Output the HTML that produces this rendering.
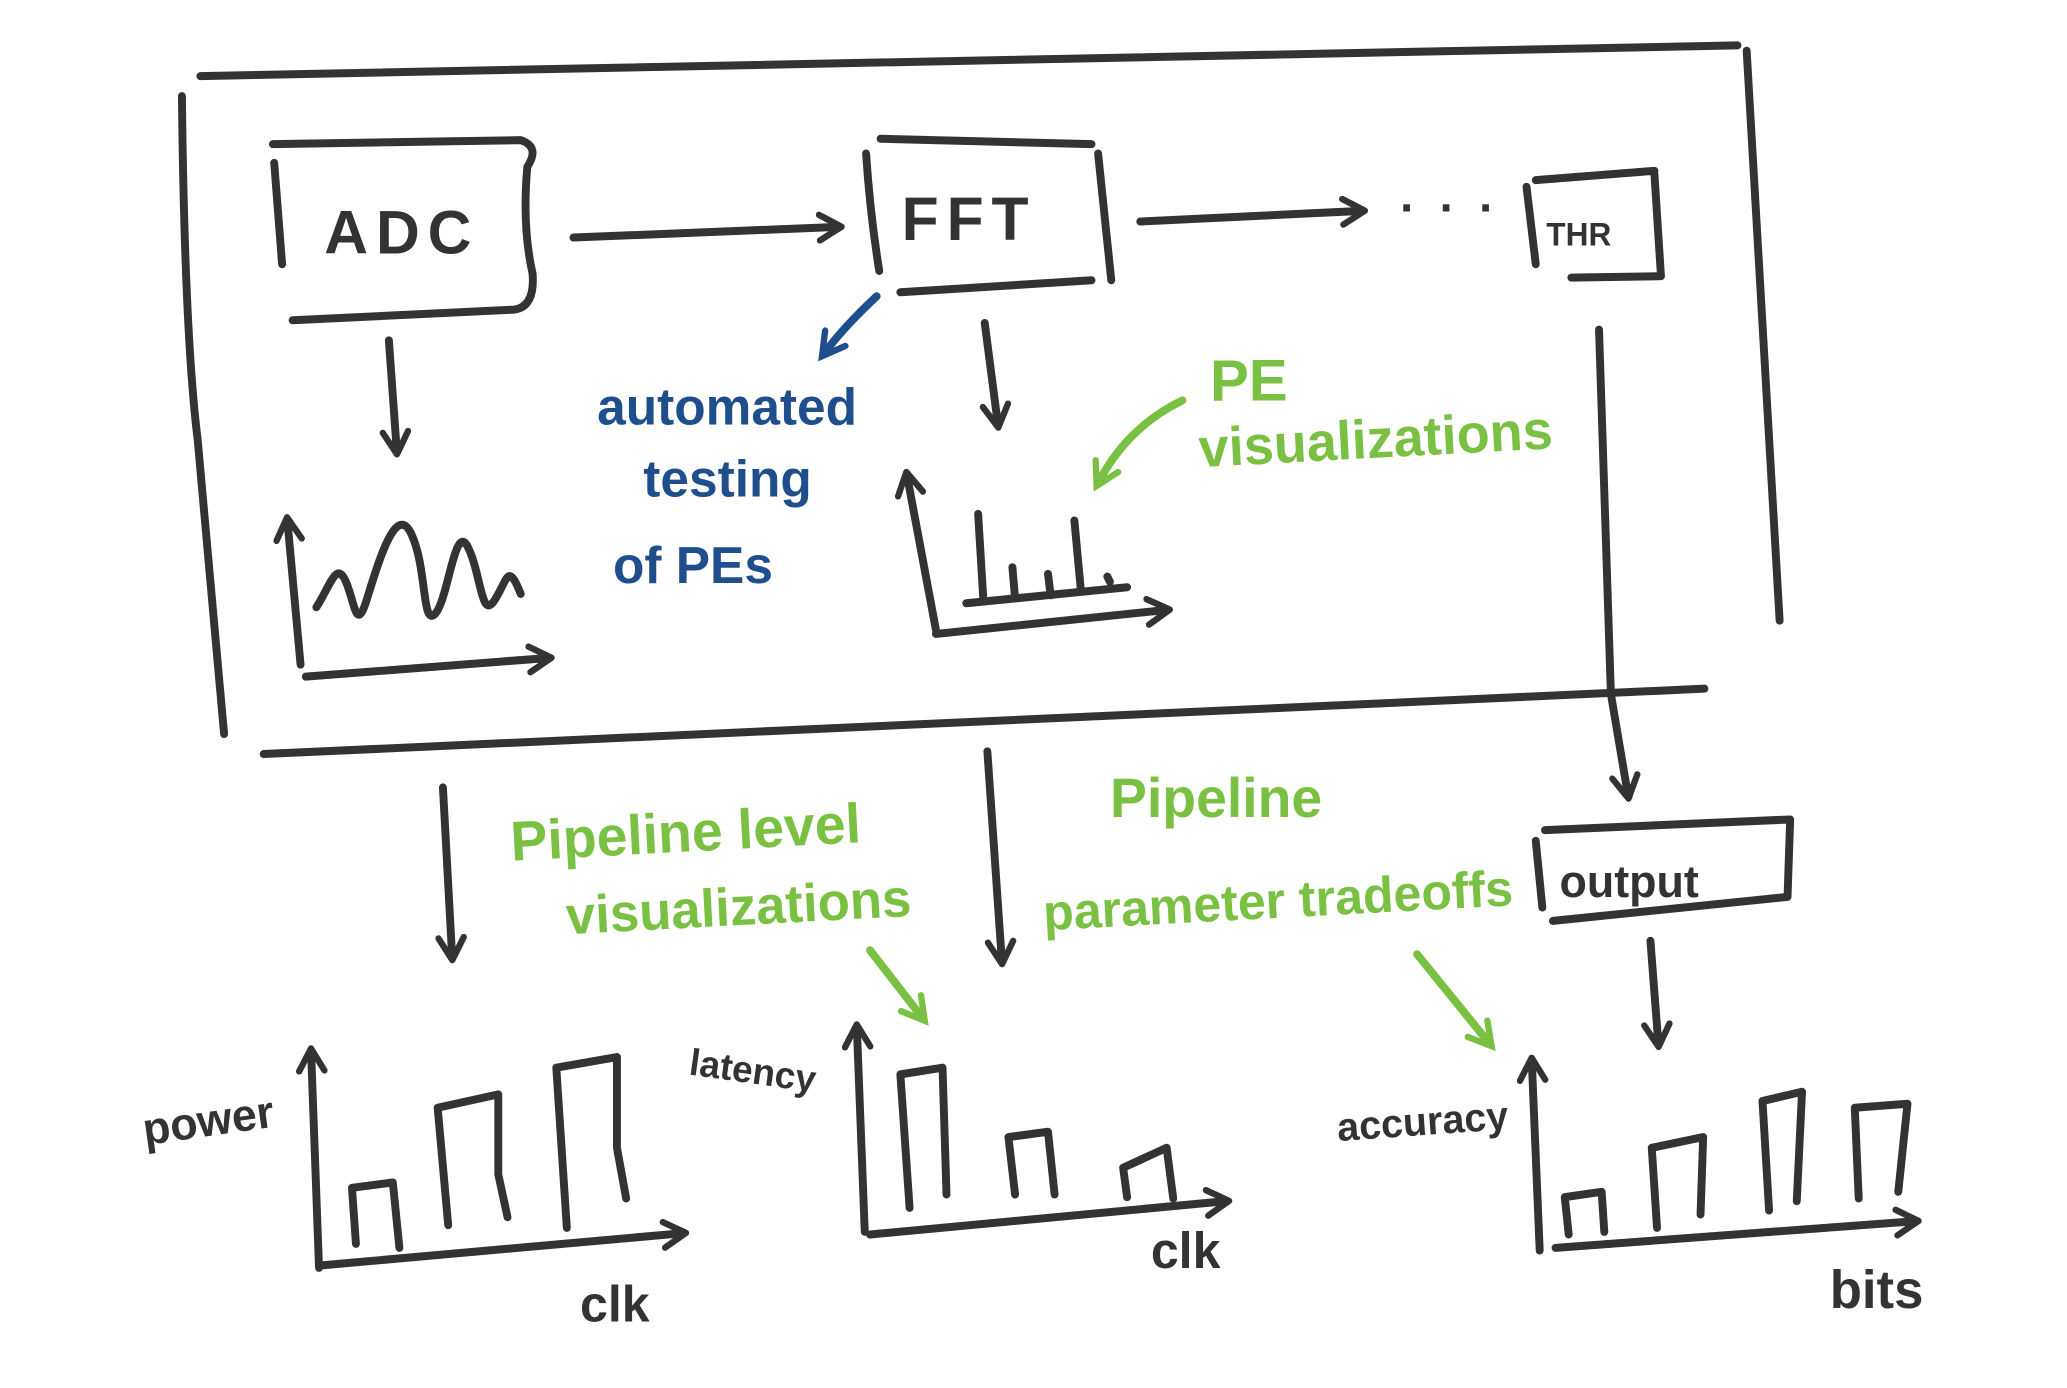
<!DOCTYPE html>
<html><head><meta charset="utf-8"><style>
html,body{margin:0;padding:0;background:#fff;}
svg{display:block;}
text{font-family:"Liberation Sans",sans-serif;font-weight:bold;}
</style></head><body>
<svg width="2067" height="1388" viewBox="0 0 1568 1040" preserveAspectRatio="none" xmlns="http://www.w3.org/2000/svg">
<defs>
<marker id="a" viewBox="0 0 10 10" refX="7" refY="5" markerWidth="4" markerHeight="4" orient="auto"><path d="M1,1 L8,5 L1,9" fill="none" stroke="#333" stroke-width="2" stroke-linecap="round" stroke-linejoin="round"/></marker>
<marker id="ab" viewBox="0 0 10 10" refX="7" refY="5" markerWidth="4" markerHeight="4" orient="auto"><path d="M1,1 L8,5 L1,9" fill="none" stroke="#1f4e8c" stroke-width="2" stroke-linecap="round"/></marker>
<marker id="ag" viewBox="0 0 10 10" refX="7" refY="5" markerWidth="4" markerHeight="4" orient="auto"><path d="M1,1 L8,5 L1,9" fill="none" stroke="#7ac143" stroke-width="2" stroke-linecap="round"/></marker>
</defs>
<g fill="none" stroke="#333" stroke-width="6" stroke-linecap="round" stroke-linejoin="round">
<path d="M152,57 L1318,34"/><path d="M1325,38 L1350,465"/><path d="M200,565 L1293,516"/><path d="M138,72 Q140,250 150,330 L170,550"/>
<path d="M207,108 L395,105 Q410,110 400,125 Q396,170 404,205 Q406,230 390,232 L222,240"/><path d="M208,122 L214,198"/>
<path d="M435,178 L636,170" marker-end="url(#a)"/>
<path d="M668,104 L828,108"/><path d="M657,115 Q660,160 667,203"/><path d="M833,115 L843,210"/><path d="M683,219 L828,210"/>
<path d="M865,166 L1033,158" marker-end="url(#a)"/>
<path d="M1165,135 L1255,128"/><path d="M1158,140 L1165,198"/><path d="M1255,130 L1260,207"/><path d="M1192,208 L1258,207"/>
<path d="M295,255 L301,338" marker-end="url(#a)"/>
<path d="M747,242 L757,318" marker-end="url(#a)"/>
<path d="M1213,247 L1222,520 L1235,596" marker-end="url(#a)"/>
<path d="M228,498 L218,390" marker-end="url(#a)"/><path d="M232,507 L416,493" marker-end="url(#a)"/>
<path d="M240,455 C250,440 255,420 262,435 S270,475 278,450 S300,375 312,400 S320,470 330,460 S345,390 355,410 S365,465 375,450 S385,420 395,445"/>
<path d="M710,472 L688,356" marker-end="url(#a)"/><path d="M710,475 L885,457" marker-end="url(#a)"/>
<path d="M733,452 L855,440"/><path d="M742,385 L746,450"/><path d="M768,425 L770,448"/><path d="M795,430 L797,446"/><path d="M815,390 L820,443"/><path d="M840,432 L842,436"/>
<path d="M336,590 L343,717" marker-end="url(#a)"/>
<path d="M749,563 L760,720" marker-end="url(#a)"/>
<path d="M1172,622 L1358,614 L1356,672 L1178,690"/><path d="M1165,630 L1170,680"/>
<path d="M1252,705 L1258,782" marker-end="url(#a)"/>
<path d="M242,950 L236,788" marker-end="url(#a)"/><path d="M245,948 L518,924" marker-end="url(#a)"/>
<path d="M270,932 L267,890 L298,886 L303,935"/><path d="M340,918 L332,830 L378,820 L378,880 L385,912"/><path d="M430,920 L422,800 L468,792 L468,860 L475,898"/>
<path d="M656,923 L650,770" marker-end="url(#a)"/><path d="M660,925 L930,900" marker-end="url(#a)"/>
<path d="M690,905 L683,805 L715,800 L718,895"/><path d="M770,895 L765,852 L795,848 L800,895"/><path d="M855,897 L852,875 L885,860 L890,898"/>
<path d="M1168,937 L1162,795" marker-end="url(#a)"/><path d="M1180,935 L1453,915" marker-end="url(#a)"/>
<path d="M1190,925 L1187,897 L1215,893 L1217,923"/><path d="M1257,920 L1253,860 L1292,852 L1290,910"/><path d="M1342,907 L1337,825 L1367,818 L1363,900"/><path d="M1410,898 L1407,830 L1447,827 L1440,893"/>
</g>
<path d="M665,222 Q640,245 625,265" fill="none" stroke="#1f4e8c" stroke-width="6" stroke-linecap="round" marker-end="url(#ab)"/>
<g fill="none" stroke="#7ac143" stroke-width="6" stroke-linecap="round">
<path d="M897,300 Q855,320 833,362" marker-end="url(#ag)"/>
<path d="M660,712 L700,763" marker-end="url(#ag)"/>
<path d="M1075,715 L1130,782" marker-end="url(#ag)"/>
</g>
<g fill="#333">
<text x="246" y="190" font-size="46" letter-spacing="6">ADC</text>
<text x="684" y="180" font-size="46" letter-spacing="6">FFT</text>
<text x="1062" y="168" font-size="36" letter-spacing="4">· · ·</text>
<text x="1173" y="184" font-size="24">THR</text>
<text x="1183" y="672" font-size="34">output</text>
<text x="110" y="858" font-size="34" transform="rotate(-8 110 858)">power</text>
<text x="440" y="990" font-size="38">clk</text>
<text x="522" y="805" font-size="28" transform="rotate(8 522 805)">latency</text>
<text x="873" y="950" font-size="38">clk</text>
<text x="1015" y="855" font-size="30" transform="rotate(-4 1015 855)">accuracy</text>
<text x="1388" y="980" font-size="40">bits</text>
</g>
<g fill="#1f4e8c" font-size="39">
<text x="453" y="318">automated</text>
<text x="488" y="372">testing</text>
<text x="465" y="437">of PEs</text>
</g>
<g fill="#7ac143">
<text x="918" y="300" font-size="44">PE</text>
<text x="910" y="350" font-size="41" transform="rotate(-3 910 350)">visualizations</text>
<text x="388" y="645" font-size="42" transform="rotate(-3 388 645)">Pipeline level</text>
<text x="430" y="700" font-size="40" transform="rotate(-3 430 700)">visualizations</text>
<text x="842" y="612" font-size="42">Pipeline</text>
<text x="792" y="697" font-size="38" transform="rotate(-3 792 697)">parameter tradeoffs</text>
</g>
</svg>
</body></html>
